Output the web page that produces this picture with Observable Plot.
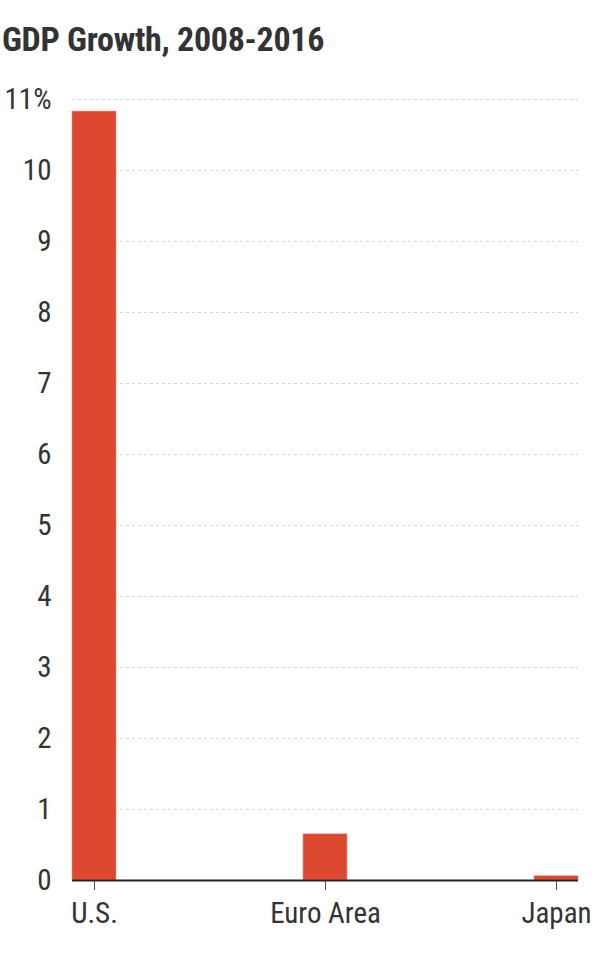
<!DOCTYPE html>
<html>
<head>
<meta charset="utf-8">
<script src="https://cdn.jsdelivr.net/npm/d3@7"></script>
<script src="https://cdn.jsdelivr.net/npm/@observablehq/plot@0.6"></script>
<style>
  body { margin: 0; background: #fff; }
  #title {
    font-family: "Liberation Sans Narrow", "Roboto Condensed", "Roboto", sans-serif;
    font-stretch: condensed;
    font-weight: bold;
    font-size: 34px;
    color: #333;
    height: 70px;
    line-height: 78px;
    padding-left: 2px;
    box-sizing: border-box;
    letter-spacing: -0.3px;
  }
  svg text { font-family: "Liberation Sans Narrow", "Roboto Condensed", "Roboto", sans-serif; }
</style>
</head>
<body>
<div id="title">GDP Growth, 2008-2016</div>
<div id="chart"></div>
<script>
const regions = ["U.S.", "Euro Area", "Japan"];
const growth = [10.83, 0.65, 0.06];
const yTicks = [0, 1, 2, 3, 4, 5, 6, 7, 8, 9, 10, 11];

const data = regions.map((r, i) => ({region: r, value: growth[i]}));

const chart = Plot.plot({
  width: 600,
  height: 890,
  marginTop: 29,
  marginBottom: 80,
  marginLeft: 72,
  marginRight: 22,
  style: {fontSize: "29px", color: "#333", background: "#fff"},
  x: {domain: regions, paddingInner: 0.81, paddingOuter: 0, label: null},
  y: {domain: [0, 11], label: null},
  marks: [
    Plot.gridY(yTicks.filter(d => d > 0), {stroke: "#d6d6d6", strokeOpacity: 1, strokeDasharray: "3,3", strokeWidth: 1.2}),
    Plot.axisY(yTicks, {tickSize: 0, tickPadding: 21, tickFormat: d => d === 11 ? "11%" : String(d), fill: "#333"}),
    Plot.axisX({tickSize: 10, tickPadding: 12, stroke: "#555", fill: "#333"}),
    Plot.barY(data, {x: "region", y: "value", fill: "#dd4830", stroke: "#ee9080", strokeWidth: 0.6}),
    Plot.ruleY([0], {stroke: "#222", strokeWidth: 2})
  ]
});
document.getElementById("chart").appendChild(chart);
</script>
</body>
</html>
